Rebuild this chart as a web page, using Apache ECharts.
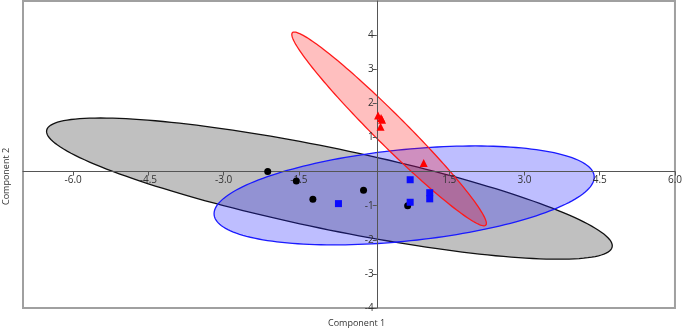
<!DOCTYPE html>
<html>
<head>
<meta charset="utf-8">
<script src="https://cdn.jsdelivr.net/npm/echarts@6/dist/echarts.min.js"></script>
<style>
  html, body { margin: 0; padding: 0; background: #fff; }
  #chart { width: 685px; height: 332px; }
</style>
</head>
<body>
<div id="chart"></div>
<script>
// scores per group
const circleX = [-2.12, -1.55, -1.22, -0.21, 0.67]
const circleY = [0.0, -0.28, -0.81, -0.55, -1.0]
const squareX = [-0.71, 0.72, 0.72, 1.11, 1.11]
const squareY = [-0.94, -0.24, -0.9, -0.62, -0.8]
const triangleX = [0.08, 0.14, 0.16, 0.13, 0.99]
const triangleY = [1.64, 1.57, 1.52, 1.31, 0.25]

// confidence ellipses: gray, blue, red
const ellipseCenterX = [-0.89, 0.6, 0.3]
const ellipseCenterY = [-0.5, -0.7, 1.25]
const ellipseHalfX = [5.64, 3.79, 1.94]
const ellipseHalfY = [2.07, 1.45, 2.84]
const ellipseRho = [-0.81, 0.37, -0.975]

const xTicks = [-6, -4.5, -3, -1.5, 1.5, 3, 4.5, 6]
const yTicks = [-4, -3, -2, -1, 1, 2, 3, 4]
const xRange = [-7, 6]
const yRange = [-4, 5]

const ellipseStyles = [
  { fill: 'rgba(150,150,150,0.6)', stroke: '#111' },
  { fill: 'rgba(40,40,255,0.3)', stroke: '#1a1aff' },
  { fill: 'rgba(255,0,0,0.25)', stroke: '#ff1a1a' }
]

const W = 685, H = 332
const grid = { left: 23, right: 5, top: 1, bottom: 24 }
const gridW = W - grid.left - grid.right
const gridH = H - grid.top - grid.bottom

// axes sit on the zero lines, so shift them in from the grid edges
const xAxisOffset = -((0 - yRange[0]) / (yRange[1] - yRange[0])) * gridH
const yAxisOffset = -((0 - xRange[0]) / (xRange[1] - xRange[0])) * gridW

const chart = echarts.init(document.getElementById('chart'))

const pairs = (xs, ys) => xs.map((x, i) => [x, ys[i]])

function ellipseSeries(i) {
  return {
    type: 'custom',
    coordinateSystem: 'cartesian2d',
    silent: true,
    clip: true,
    z: 1 + i,
    data: [[ellipseCenterX[i], ellipseCenterY[i]]],
    renderItem: function (params, api) {
      const cx = ellipseCenterX[i], cy = ellipseCenterY[i]
      const a = ellipseHalfX[i], b = ellipseHalfY[i], r = ellipseRho[i]
      const s = Math.sqrt(1 - r * r)
      const pts = []
      for (let k = 0; k < 180; k++) {
        const t = (k / 180) * Math.PI * 2
        pts.push(api.coord([cx + a * Math.cos(t), cy + b * (r * Math.cos(t) + s * Math.sin(t))]))
      }
      return {
        type: 'polygon',
        shape: { points: pts },
        style: { fill: ellipseStyles[i].fill, stroke: ellipseStyles[i].stroke, lineWidth: 1.3 }
      }
    }
  }
}

const labelFont = { fontFamily: 'Open Sans', fontSize: 10, color: '#333' }

const option = {
  animation: false,
  grid: {
    ...grid,
    show: true, borderColor: '#a0a0a0', borderWidth: 2, backgroundColor: 'transparent'
  },
  xAxis: {
    type: 'value',
    min: xRange[0], max: xRange[1],
    offset: xAxisOffset,
    axisLine: { onZero: false, lineStyle: { color: '#555', width: 1 } },
    axisTick: { show: true, length: 4, customValues: xTicks, lineStyle: { color: '#555' } },
    axisLabel: {
      ...labelFont, margin: 4, customValues: xTicks,
      formatter: v => v.toFixed(1)
    },
    splitLine: { show: false },
    z: 10
  },
  yAxis: {
    type: 'value',
    min: yRange[0], max: yRange[1],
    offset: yAxisOffset,
    axisLine: { onZero: false, lineStyle: { color: '#555', width: 1 } },
    axisTick: { show: true, length: 4, customValues: yTicks, lineStyle: { color: '#555' } },
    axisLabel: { ...labelFont, margin: 3, customValues: yTicks },
    splitLine: { show: false },
    z: 10
  },
  graphic: [
    { type: 'text', left: 328, top: 319, style: { text: 'Component 1', ...labelFont, fill: '#333', fontSize: 9 } },
    { type: 'text', x: 2, y: 205, rotation: Math.PI / 2, style: { text: 'Component 2', fontFamily: 'Open Sans', fontSize: 9, fill: '#333' } }
  ],
  series: [
    ellipseSeries(0),
    ellipseSeries(1),
    ellipseSeries(2),
    {
      type: 'scatter', symbol: 'circle', symbolSize: 7, z: 20,
      itemStyle: { color: '#000', opacity: 1 },
      data: pairs(circleX, circleY)
    },
    {
      type: 'scatter', symbol: 'rect', symbolSize: 7, z: 20,
      itemStyle: { color: '#0a0aff', opacity: 1 },
      data: pairs(squareX, squareY)
    },
    {
      type: 'scatter', symbol: 'triangle', symbolSize: 8, z: 20,
      itemStyle: { color: '#ff0000', opacity: 1 },
      data: pairs(triangleX, triangleY)
    }
  ]
}

chart.setOption(option)
</script>
</body>
</html>
